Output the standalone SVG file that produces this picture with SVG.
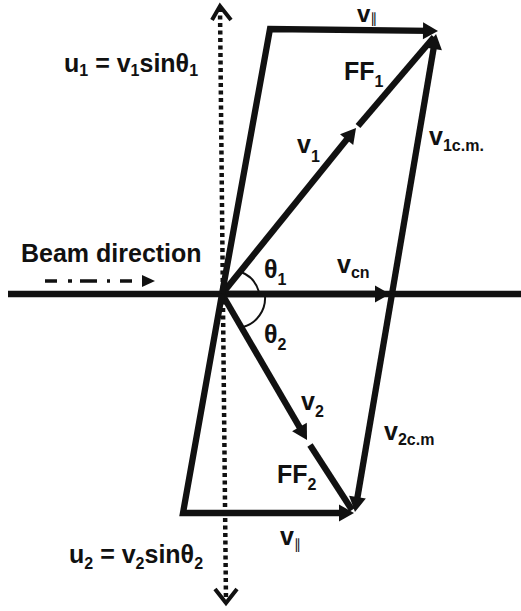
<svg xmlns="http://www.w3.org/2000/svg" width="521" height="611" viewBox="0 0 521 611">
<defs>
<marker id="ah" markerUnits="userSpaceOnUse" markerWidth="20" markerHeight="20" viewBox="0 -10 16 20" refX="7" refY="0" orient="auto">
<path d="M0,-8.5 L15,0 L0,8.5 z" fill="#111"/>
</marker>
<style>
.ln{stroke:#111;stroke-width:6.3;fill:none;stroke-linejoin:miter}
.dot{stroke:#111;stroke-width:4.5;fill:none;stroke-dasharray:4 3.5}
.chev{stroke:#111;stroke-width:4;fill:none;stroke-linejoin:miter}
.arc{stroke:#111;stroke-width:2;fill:none}
.t{font-family:"Liberation Sans",Arial,sans-serif;font-weight:bold;font-size:25px;fill:#111}
.s{font-size:16px}
.par{font-family:"DejaVu Sans","Liberation Sans",sans-serif;font-weight:normal;font-size:14px}
</style>
</defs>
<g id="axis">
<line class="dot" x1="220" y1="8" x2="226" y2="602"/>
<path class="chev" d="M212,20 L220,6 L231,20"/>
<path class="chev" d="M215,589 L226,603 L237,589"/>
<line class="ln" x1="8" y1="294" x2="521" y2="294"/>
</g>
<g id="beam">
<text class="t" x="21" y="262">Beam direction</text>
<g stroke="#111" stroke-width="3.5">
<line x1="45" y1="281" x2="57" y2="281"/>
<line x1="68" y1="281" x2="72" y2="281"/>
<line x1="80" y1="281" x2="97" y2="281"/>
<line x1="107" y1="281" x2="110" y2="281"/>
<line x1="120" y1="281" x2="132" y2="281"/>
</g>
<path d="M142,275 L155,281 L142,287 z" fill="#111"/>
</g>
<g id="connectors">
<line class="ln" x1="222" y1="294" x2="382" y2="294" marker-end="url(#ah)"/>
<line class="ln" x1="222" y1="294" x2="351" y2="134.2" marker-end="url(#ah)"/>
<line class="ln" x1="358" y1="126" x2="434" y2="37"/>
<line class="ln" x1="392" y1="294" x2="434.7" y2="41.9" marker-end="url(#ah)"/>
<path class="ln" d="M222,294 L270,29 L430,30.9" marker-end="url(#ah)"/>
<line class="ln" x1="222" y1="294" x2="303" y2="433.1" marker-end="url(#ah)"/>
<line class="ln" x1="310" y1="445" x2="352" y2="510"/>
<line class="ln" x1="392" y1="294" x2="356.3" y2="504.1" marker-end="url(#ah)"/>
<path class="ln" d="M222,294 L183,513 L346,513" marker-end="url(#ah)"/>
<path class="arc" d="M259,292 A 30 30 0 0 0 241,272"/>
<path class="arc" d="M265,296 A 30 30 0 0 1 243,327"/>
</g>
<g id="labels">
<text class="t" x="64" y="72">u<tspan class="s" dy="4">1</tspan><tspan dy="-4"> = v</tspan><tspan class="s" dy="4">1</tspan><tspan dy="-4">sinθ</tspan><tspan class="s" dy="4">1</tspan></text>
<text class="t" x="69" y="563">u<tspan class="s" dy="6">2</tspan><tspan dy="-6"> = v</tspan><tspan class="s" dy="6">2</tspan><tspan dy="-6">sinθ</tspan><tspan class="s" dy="6">2</tspan></text>
<text class="t" x="357" y="22" style="font-size:24px">v<tspan class="par" dy="1">∥</tspan></text>
<text class="t" x="280" y="545">v<tspan class="par" dy="4">∥</tspan></text>
<text class="t" x="344" y="80">FF<tspan class="s" dy="7">1</tspan></text>
<text class="t" x="297" y="153">v<tspan class="s" dy="9">1</tspan></text>
<text class="t" x="429" y="145">v<tspan class="s" dy="6">1c.m.</tspan></text>
<text class="t" x="264" y="278">θ<tspan class="s" dy="7">1</tspan></text>
<text class="t" x="337" y="273">v<tspan class="s" dy="5">cn</tspan></text>
<text class="t" x="264" y="343">θ<tspan class="s" dy="7">2</tspan></text>
<text class="t" x="301" y="410">v<tspan class="s" dy="7">2</tspan></text>
<text class="t" x="384" y="440">v<tspan class="s" dy="5">2c.m</tspan></text>
<text class="t" x="277" y="483">FF<tspan class="s" dy="7">2</tspan></text>
</g>
</svg>
